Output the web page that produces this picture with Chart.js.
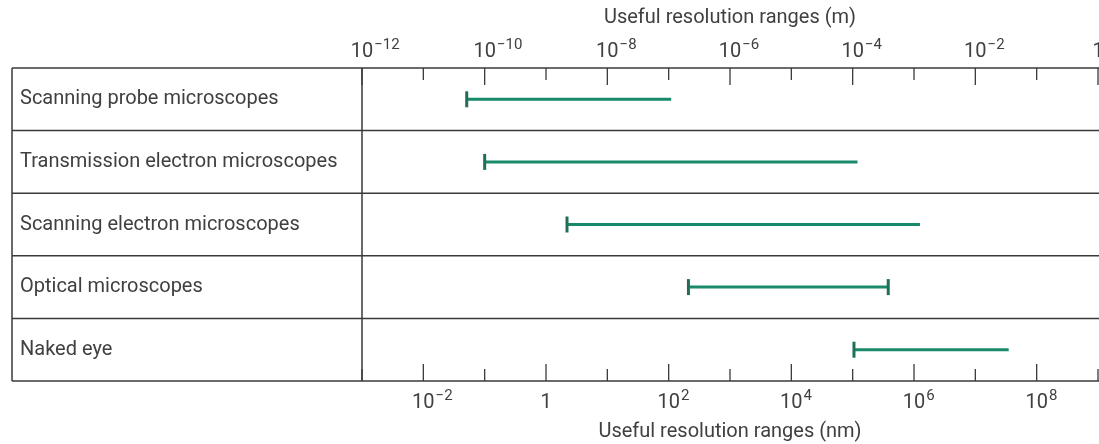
<!DOCTYPE html>
<html lang="en">
<head>
<meta charset="UTF-8">
<title>Useful resolution ranges</title>
<script src="https://cdn.jsdelivr.net/npm/chart.js"></script>
<style>
  html, body { margin: 0; padding: 0; background: #fff; }
</style>
</head>
<body>
<canvas id="rangeChart" width="1099" height="444"></canvas>
<script>
// rows, top to bottom
const instruments = ['Scanning probe microscopes', 'Transmission electron microscopes', 'Scanning electron microscopes', 'Optical microscopes', 'Naked eye'];
// useful range of each instrument, in metres
const rangeStart = [5.1e-11, 1e-10, 2.2e-9, 2.1e-7, 1.05e-4];
const rangeEnd = [1.1e-7, 1.2e-4, 1.25e-3, 3.8e-4, 3.5e-2];
const capAtEnd = [false, false, false, true, false];
// labelled decades on each axis
const meterExponents = [-12, -10, -8, -6, -4, -2, 0];
const nmExponents = [-2, 0, 2, 4, 6, 8];

const lineColor = '#3a3a3a';
const textColor = '#404040';
const barColor = '#18896a';
const capColor = '#1f6f57';

function supText(e) {
    return e < 0 ? '\u2212' + Math.abs(e) : String(e);
}

function drawPower(ctx, x, baseline, e) {
    ctx.textBaseline = 'alphabetic';
    ctx.font = '20px Roboto';
    ctx.textAlign = 'center';
    if (e === 0) {
        ctx.fillText('1', x, baseline);
        return;
    }
    ctx.fillText('10', x, baseline);
    const w = ctx.measureText('10').width;
    ctx.font = '15px Roboto';
    ctx.textAlign = 'left';
    ctx.fillText(supText(e), x + w / 2 + 1, baseline - 8);
}

// table lines, axis ticks and power-of-ten labels
const tableFrame = {
    id: 'tableFrame',
    beforeDatasetsDraw(chart) {
        const { ctx, chartArea: a, scales } = chart;
        const y = scales.y, top = scales.x, bottom = scales.xnm;
        const right = chart.width;
        ctx.save();
        ctx.strokeStyle = lineColor;
        ctx.lineWidth = 1.5;
        ctx.beginPath();
        ctx.moveTo(12, a.top); ctx.lineTo(right, a.top);
        ctx.moveTo(12, a.bottom); ctx.lineTo(right, a.bottom);
        ctx.moveTo(12, a.top); ctx.lineTo(12, a.bottom);
        ctx.moveTo(a.left, a.top); ctx.lineTo(a.left, a.bottom);
        for (let i = 1; i < instruments.length; i++) {
            const yy = (y.getPixelForTick(i - 1) + y.getPixelForTick(i)) / 2;
            ctx.moveTo(12, yy); ctx.lineTo(right, yy);
        }
        ctx.stroke();

        ctx.lineWidth = 1.3;
        ctx.beginPath();
        for (let e = -12; e <= 0; e++) {
            const x = top.getPixelForValue(Math.pow(10, e));
            const len = meterExponents.includes(e) ? 17 : 12;
            ctx.moveTo(x, a.top); ctx.lineTo(x, a.top + len);
        }
        for (let e = -3; e <= 9; e++) {
            const x = bottom.getPixelForValue(Math.pow(10, e));
            const len = nmExponents.includes(e) ? 17 : 12;
            ctx.moveTo(x, a.bottom); ctx.lineTo(x, a.bottom - len);
        }
        ctx.stroke();

        ctx.fillStyle = textColor;
        meterExponents.forEach(e => drawPower(ctx, top.getPixelForValue(Math.pow(10, e)), 57, e));
        nmExponents.forEach(e => drawPower(ctx, bottom.getPixelForValue(Math.pow(10, e)), 408, e));
        ctx.restore();
    }
};

const datasets = instruments.map((name, i) => ({
    label: name,
    data: [{ x: rangeStart[i], y: name }, { x: rangeEnd[i], y: name }],
    xAxisID: 'x',
    yAxisID: 'y',
    borderColor: barColor,
    borderWidth: 3,
    pointStyle: 'line',
    pointRotation: 90,
    pointRadius: [8, capAtEnd[i] ? 8 : 0],
    pointHoverRadius: 0,
    pointBorderColor: capColor,
    pointBackgroundColor: capColor,
    pointBorderWidth: 3,
    clip: false
}));

new Chart(document.getElementById('rangeChart'), {
    type: 'line',
    data: { datasets },
    options: {
        responsive: false,
        animation: false,
        devicePixelRatio: 1,
        layout: { autoPadding: false, padding: { left: 20, right: 1, top: 0, bottom: 0 } },
        plugins: { legend: { display: false }, tooltip: { enabled: false } },
        scales: {
            x: {
                type: 'logarithmic',
                axis: 'x',
                position: 'top',
                min: 1e-12,
                max: 1,
                grid: { display: false },
                border: { display: false },
                ticks: { display: false },
                title: {
                    display: true,
                    text: 'Useful resolution ranges (m)',
                    color: textColor,
                    font: { family: 'Roboto', size: 20 },
                    padding: { top: 6, bottom: 0 }
                },
                afterFit(scale) { scale.height = 68; }
            },
            xnm: {
                type: 'logarithmic',
                axis: 'x',
                position: 'bottom',
                min: 1e-3,
                max: 1e9,
                grid: { display: false },
                border: { display: false },
                ticks: { display: false },
                title: {
                    display: true,
                    text: 'Useful resolution ranges (nm)',
                    color: textColor,
                    font: { family: 'Roboto', size: 20 },
                    padding: { top: 0, bottom: 0 }
                },
                afterFit(scale) { scale.height = 63; }
            },
            y: {
                type: 'category',
                labels: instruments,
                offset: true,
                position: 'left',
                grid: { display: false },
                border: { display: false },
                ticks: {
                    crossAlign: 'far',
                    color: textColor,
                    font: { family: 'Roboto', size: 20 }
                },
                afterFit(scale) { scale.width = 342; }
            }
        }
    },
    plugins: [tableFrame]
});
</script>
</body>
</html>
